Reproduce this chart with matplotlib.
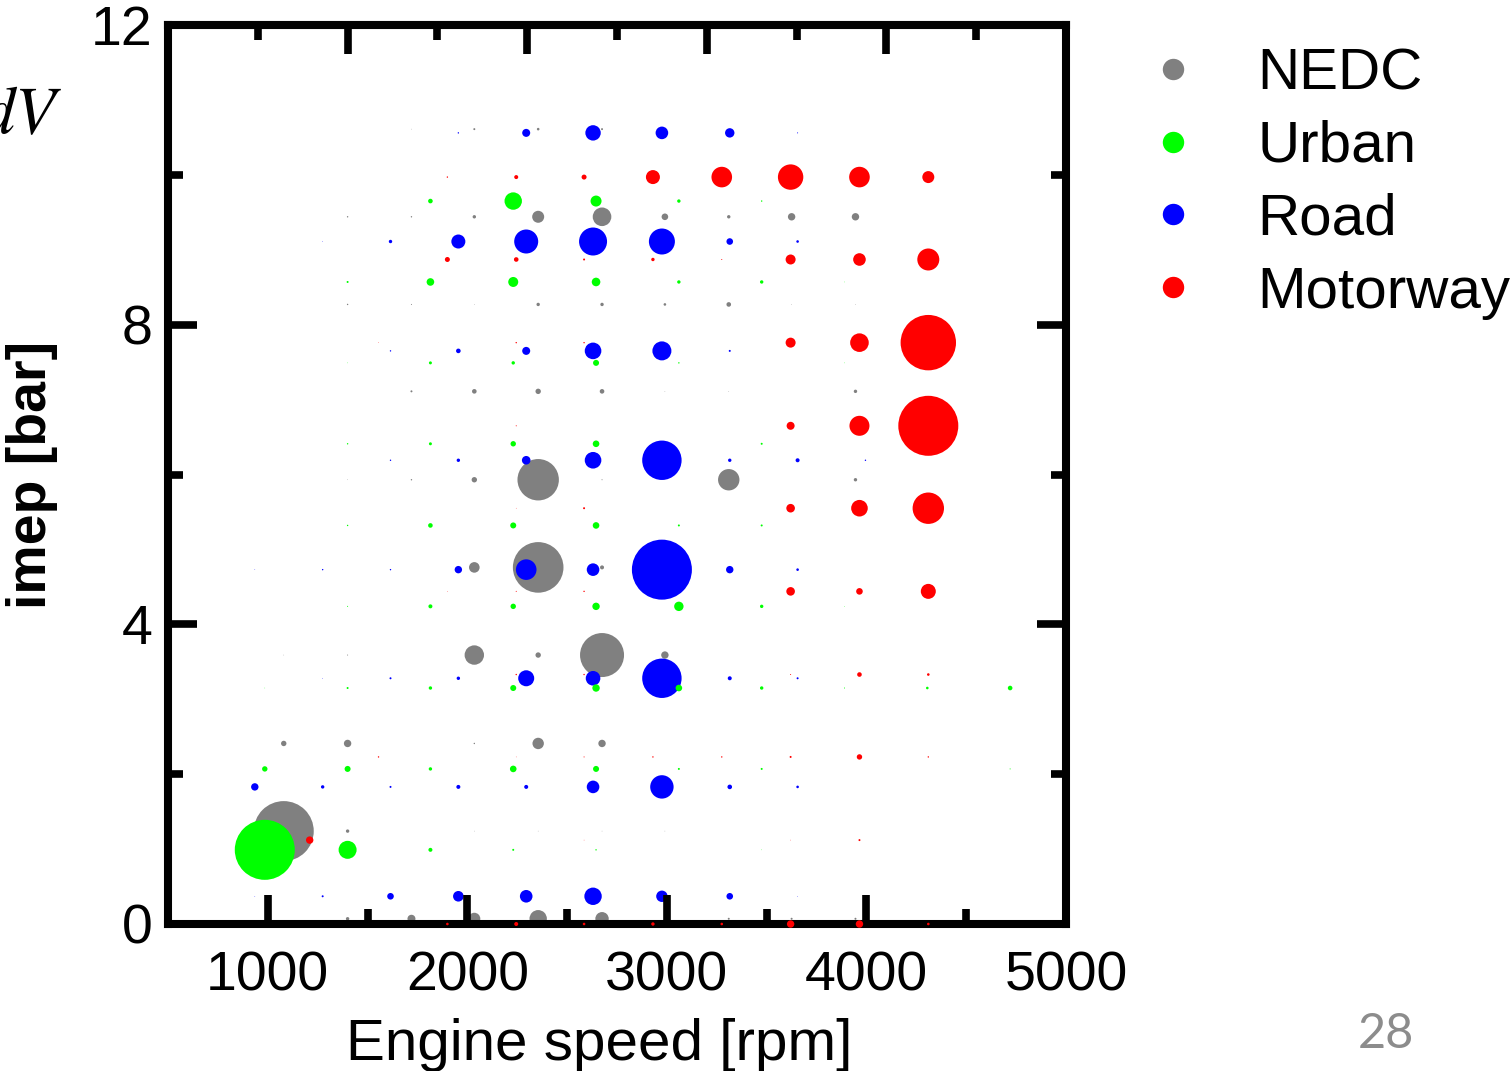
import matplotlib.pyplot as plt
import numpy as np
from matplotlib.lines import Line2D
from matplotlib.ticker import MultipleLocator

plt.rcParams["font.family"] = ["Liberation Sans", "DejaVu Sans"]

# ── Data: operating-point grids per cycle ───────────────────────────────────
# bubble values are read off the picture (marker radius, px)
nedc_rpm = [1080, 1400, 1720, 2035, 2355, 2675, 2990, 3310, 3625, 3945]
nedc_imep = [10.61, 9.44, 8.27, 7.11, 5.93, 4.76, 3.59, 2.41, 1.24, 0.07]
nedc_val = [
    [0, 0, 0.3, 1, 1.3, 1, 0, 0, 0, 0],
    [0, 0.7, 0.7, 1.7, 6, 9.3, 3.3, 1.7, 3.7, 3.7],
    [0, 0.7, 0.5, 0.3, 1.7, 1.7, 1.3, 2.3, 0.3, 0.3],
    [0, 0, 1, 2.3, 2.7, 2.3, 0.3, 0.3, 0, 1.7],
    [0, 0.3, 0.7, 2.7, 20.7, 0.5, 0.3, 10.7, 0, 1.7],
    [0, 0, 0, 5.3, 25.3, 2, 0, 0, 0, 0],
    [0.3, 0.5, 0, 9.7, 2.7, 22, 3.7, 0, 0, 0],
    [2.7, 3.7, 0, 0.7, 5.7, 3.7, 0, 0, 0, 0],
    [30, 1.7, 0, 0.3, 0.3, 0.3, 0.3, 0, 0, 0],
    [0, 1.7, 4, 6, 8.7, 6.7, 0, 1, 1, 1],
]

road_rpm = [935, 1275, 1615, 1955, 2295, 2630, 2975, 3315, 3655, 3995]
road_imep = [10.56, 9.11, 7.65, 6.19, 4.73, 3.28, 1.83, 0.37]
road_val = [
    [0, 0, 0, 0.7, 4, 7.7, 6.3, 4.7, 0.5, 0],
    [0, 0.3, 1.7, 7, 12, 14, 13, 3.3, 1.3, 0],
    [0, 0, 0.7, 2.3, 4, 8.3, 9.5, 1, 0, 0],
    [0, 0, 0.7, 1.7, 4.3, 8.3, 19.7, 1.7, 2, 0.7],
    [0.3, 0.7, 0.7, 3.7, 10.3, 6.3, 30, 3.7, 1.3, 0],
    [0, 0.3, 1, 1.7, 8, 7.3, 19.7, 2, 1, 0],
    [3.7, 1.7, 1, 2, 2, 6.3, 11.7, 2.3, 1.3, 0],
    [0.3, 1, 3.3, 5.3, 6.3, 8.7, 5.7, 3.3, 0.3, 0],
]

urban_rpm = [985, 1400, 1815, 2230, 2645, 3060, 3475, 3890, 4305, 4720]
urban_imep = [9.65, 8.57, 7.49, 6.41, 5.32, 4.24, 3.15, 2.07, 0.99]
urban_val = [
    [0, 0, 2.3, 8.7, 5.5, 1.7, 0.7, 0, 0, 0],
    [0, 1, 3.8, 5, 4.3, 1.7, 1.7, 0.3, 0, 0],
    [0, 0.3, 1.5, 1.7, 3, 0.7, 0, 0.3, 0, 0],
    [0, 0.7, 1.5, 2.7, 3.3, 0, 1, 0, 0, 0],
    [0, 0.7, 2.3, 3, 3.3, 1, 1, 0, 0, 0],
    [0, 0.5, 2, 2.7, 3.7, 4.7, 1.7, 0.3, 0, 0],
    [0.3, 1, 1.7, 3, 3.7, 3.3, 1.7, 0.5, 1.3, 2.3],
    [2.7, 3, 1.7, 3.3, 3, 1, 1, 0, 0, 0.5],
    [30, 9, 2, 1, 0.7, 0, 0.3, 0, 0, 0],
]

mway_rpm = [1210, 1555, 1900, 2245, 2585, 2930, 3275, 3620, 3965, 4310]
mway_imep = [9.97, 8.87, 7.76, 6.65, 5.55, 4.44, 3.33, 2.23, 1.12, 0.0]
mway_val = [
    [0, 0, 0.7, 2, 2.5, 7, 10.3, 12.7, 10.3, 6],
    [0, 0, 2.5, 2.3, 1, 1.7, 0.5, 5, 6.3, 11],
    [0, 0.3, 0, 0.7, 0.7, 0, 0, 5, 9.3, 27.7],
    [0, 0, 0, 0.5, 0, 0, 0, 4, 10, 30],
    [0, 0, 0, 0.3, 1, 0, 0, 4.3, 8.3, 15.7],
    [0, 0, 0.3, 0.5, 0.7, 0, 0, 4.3, 3.3, 7.5],
    [0, 0, 0, 0.7, 0.7, 0, 0, 0.5, 2.3, 1.3],
    [0, 0.7, 0, 0.3, 0.5, 0.7, 0.7, 1, 2.7, 0.7],
    [3.7, 0, 0, 0, 0.3, 0, 0, 0.3, 1, 0],
    [0, 0, 1.3, 2, 1.3, 1.7, 1.3, 3.7, 3.7, 1.3],
]

labels = ["NEDC", "Urban", "Road", "Motorway"]
colors = {"NEDC": "#808080", "Urban": "#00ff00", "Road": "#0000ff", "Motorway": "#ff0000"}

# ── Figure ───────────────────────────────────────────────────────────────────
fig = plt.figure(figsize=(15.12, 10.71), dpi=100)
ax = fig.add_axes([168 / 1512, 1 - 924 / 1071, 898 / 1512, 899 / 1071])


def bubbles(rpm, imep, val, name, **kw):
    X, Y = np.meshgrid(rpm, imep)
    V = np.asarray(val, dtype=float)
    keep = V > 0
    s = (1.44 * V[keep]) ** 2          # radius px -> marker area pt^2
    ax.scatter(X[keep], Y[keep], s=s, c=colors[name], linewidths=0, **kw)


bubbles(nedc_rpm, nedc_imep, nedc_val, "NEDC", zorder=1)
bubbles(road_rpm, road_imep, road_val, "Road", zorder=1.2)
bubbles(urban_rpm, urban_imep, urban_val, "Urban", zorder=1.4)
bubbles(mway_rpm, mway_imep, mway_val, "Motorway", zorder=3, clip_on=False)

ax.set_xlim(500, 5000)
ax.set_ylim(0, 12)
ax.xaxis.set_major_locator(MultipleLocator(1000))
ax.xaxis.set_minor_locator(MultipleLocator(500))
ax.yaxis.set_major_locator(MultipleLocator(4))
ax.yaxis.set_minor_locator(MultipleLocator(2))
ax.tick_params(which="both", direction="in", right=True, top=False,
               labelsize=40, width=5.5)
ax.tick_params(which="major", length=21)
ax.tick_params(which="minor", length=11)
ax.tick_params(axis="x", which="major", pad=19)
ax.tick_params(axis="y", which="major", pad=11)
for sp in ax.spines.values():
    sp.set_linewidth(5.8)

# top axis has its own 0..5 scale
top = ax.secondary_xaxis("top", functions=(lambda x: (x - 500) / 900,
                                           lambda u: u * 900 + 500))
top.xaxis.set_major_locator(MultipleLocator(1))
top.xaxis.set_minor_locator(MultipleLocator(0.5))
top.tick_params(which="both", direction="in", width=5.5, labeltop=False)
top.tick_params(which="major", length=21)
top.tick_params(which="minor", length=11)
top.spines["top"].set_linewidth(5.8)

ax.set_xlabel("Engine speed [rpm]", fontsize=42)
ax.xaxis.set_label_coords(0.48, -0.105)
ax.set_ylabel("imep [bar]", fontsize=40, fontweight="bold")
ax.yaxis.set_label_coords(-0.1225, 0.5)

handles = [Line2D([], [], ls="none", marker="o", markersize=15.4,
                  markerfacecolor=colors[n], markeredgewidth=0)
           for n in labels]
fig.legend(handles, labels, loc="upper left",
           bbox_to_anchor=(1143.5 / 1512, 1 - 47 / 1071),
           frameon=False, fontsize=42, borderpad=0, handlelength=1.0,
           handletextpad=0.95, labelspacing=0.325, borderaxespad=0)

# clipped leftover of a formula and the slide number
fig.text(62 / 1512, 1 - 116 / 1071, r"$dV$", fontsize=48, ha="right",
         va="center", math_fontfamily="stix")
fig.text(1386 / 1512, 1 - 1034 / 1071, "28", fontsize=35, color="#8c8c8c",
         ha="center", va="center", family=["Lato", "DejaVu Sans"])

plt.savefig("out.png", dpi=100)
